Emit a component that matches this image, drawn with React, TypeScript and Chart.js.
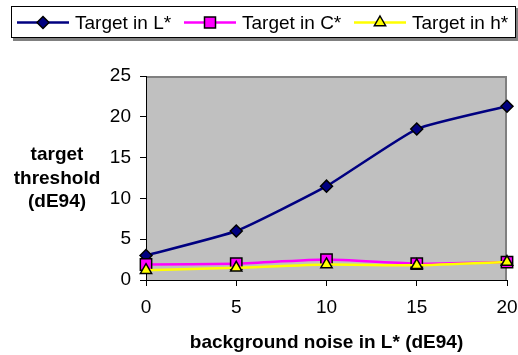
import React, { useEffect, useRef } from 'react';
import { Chart, registerables } from 'chart.js';

Chart.register(...registerables);

const noiseLabels = ['0', '5', '10', '15', '20'];
const targetL = [3.0, 6.0, 11.5, 18.5, 21.3];
const targetC = [1.9, 2.0, 2.5, 2.0, 2.2];
const targetH = [1.2, 1.5, 1.9, 1.8, 2.2];
const yTicks = [0, 5, 10, 15, 20, 25];
const seriesNames = ['Target in L*', 'Target in C*', 'Target in h*'];
const yTitleLines = ['target', 'threshold', '(dE94)'];
const xTitle = 'background noise in L* (dE94)';

const FONT = '"Liberation Sans", Arial, sans-serif';

function drawMarker(ctx: CanvasRenderingContext2D, kind: string, x: number, y: number, fill: string) {
  ctx.save();
  ctx.fillStyle = fill;
  ctx.strokeStyle = '#000';
  ctx.lineWidth = 1.5;
  ctx.beginPath();
  if (kind === 'diamond') {
    const r = 6;
    ctx.moveTo(x, y - r);
    ctx.lineTo(x + r, y);
    ctx.lineTo(x, y + r);
    ctx.lineTo(x - r, y);
    ctx.closePath();
  } else if (kind === 'square') {
    const s = 5.5;
    ctx.rect(x - s, y - s, 2 * s, 2 * s);
  } else {
    const r = 6.5;
    ctx.moveTo(x, y - r);
    ctx.lineTo(x + r * 0.866, y + r * 0.5);
    ctx.lineTo(x - r * 0.866, y + r * 0.5);
    ctx.closePath();
  }
  ctx.fill();
  ctx.stroke();
  ctx.restore();
}

const decorPlugin = {
  id: 'decor',
  beforeDraw(chart: any) {
    const { ctx, chartArea: a } = chart;
    ctx.save();
    ctx.fillStyle = '#ffffff';
    ctx.fillRect(0, 0, chart.width, chart.height);
    ctx.fillStyle = '#C0C0C0';
    ctx.fillRect(a.left, a.top, a.right - a.left, a.bottom - a.top);
    ctx.strokeStyle = '#808080';
    ctx.lineWidth = 2;
    ctx.beginPath();
    ctx.moveTo(a.left, a.top + 1);
    ctx.lineTo(a.right - 1, a.top + 1);
    ctx.lineTo(a.right - 1, a.bottom);
    ctx.stroke();
    ctx.restore();
  },
  afterDraw(chart: any) {
    const { ctx, chartArea: a } = chart;
    ctx.save();
    // legend box
    ctx.fillStyle = '#808080';
    ctx.fillRect(13, 8, 505, 33);
    ctx.fillStyle = '#ffffff';
    ctx.fillRect(11, 6, 505, 32);
    ctx.strokeStyle = '#000';
    ctx.lineWidth = 1;
    ctx.strokeRect(11.5, 6.5, 504, 31);
    const items = [
      { x: 17, color: '#000080', kind: 'diamond', fill: '#000080' },
      { x: 184, color: '#FF00FF', kind: 'square', fill: '#FF00FF' },
      { x: 354, color: '#FFFF00', kind: 'triangle', fill: '#FFFF00' },
    ];
    const ly = 22.5;
    items.forEach((it, i) => {
      ctx.strokeStyle = it.color;
      ctx.lineWidth = 2.5;
      ctx.beginPath();
      ctx.moveTo(it.x, ly);
      ctx.lineTo(it.x + 52, ly);
      ctx.stroke();
      drawMarker(ctx, it.kind, it.x + 26, ly, it.fill);
      ctx.fillStyle = '#000';
      ctx.font = `19px ${FONT}`;
      ctx.textAlign = 'left';
      ctx.textBaseline = 'middle';
      ctx.fillText(seriesNames[i], it.x + 58, ly + 1);
    });
    // y title
    ctx.font = `bold 19px ${FONT}`;
    ctx.textAlign = 'center';
    ctx.textBaseline = 'middle';
    const ys = [155, 178.5, 202];
    yTitleLines.forEach((t, i) => ctx.fillText(t, 57, ys[i]));
    // x title
    ctx.fillText(xTitle, (a.left + a.right) / 2, 343);
    ctx.restore();
  },
};

export default function App() {
  const ref = useRef<HTMLCanvasElement>(null);
  useEffect(() => {
    if (!ref.current) return;
    const chart = new Chart(ref.current, {
      type: 'line',
      data: {
        labels: noiseLabels,
        datasets: [
          {
            label: seriesNames[0],
            data: targetL,
            borderColor: '#000080',
            backgroundColor: '#000080',
            borderWidth: 2.5,
            pointStyle: 'rectRot',
            pointRadius: 6,
            pointBorderColor: '#000',
            pointBackgroundColor: '#000080',
            pointBorderWidth: 1.5,
            tension: 0.15,
            clip: false,
            order: 2,
          },
          {
            label: seriesNames[1],
            data: targetC,
            borderColor: '#FF00FF',
            backgroundColor: '#FF00FF',
            borderWidth: 2.5,
            pointStyle: 'rect',
            pointRadius: 8,
            pointBorderColor: '#000',
            pointBackgroundColor: '#FF00FF',
            pointBorderWidth: 1.5,
            tension: 0.15,
            clip: false,
            order: 1,
          },
          {
            label: seriesNames[2],
            data: targetH,
            borderColor: '#FFFF00',
            backgroundColor: '#FFFF00',
            borderWidth: 2.5,
            pointStyle: 'triangle',
            pointRadius: 6.5,
            pointBorderColor: '#000',
            pointBackgroundColor: '#FFFF00',
            pointBorderWidth: 1.5,
            tension: 0.15,
            clip: false,
            order: 0,
          },
        ],
      },
      options: {
        responsive: false,
        animation: false,
        devicePixelRatio: 1,
        layout: { padding: { top: 76, right: 11, left: 0, bottom: 0 } },
        plugins: { legend: { display: false }, tooltip: { enabled: false }, title: { display: false } },
        scales: {
          x: {
            type: 'category',
            offset: false,
            grid: { drawOnChartArea: false, drawTicks: true, tickLength: 6, color: '#000', lineWidth: 1 },
            border: { display: true, color: '#000', width: 1 },
            ticks: { color: '#000', font: { family: FONT, size: 19 }, padding: 10, maxRotation: 0 },
            afterFit: (s: any) => { s.height = 75; s.paddingLeft = 0; s.paddingRight = 0; },
          },
          y: {
            min: 0,
            max: 25,
            afterBuildTicks: (s: any) => { s.ticks = yTicks.map((v) => ({ value: v })); },
            grid: { drawOnChartArea: false, drawTicks: true, tickLength: 6, color: '#000', lineWidth: 1 },
            border: { display: true, color: '#000', width: 1 },
            ticks: { color: '#000', font: { family: FONT, size: 19 }, padding: 9 },
            afterFit: (s: any) => { s.width = 146; s.paddingTop = 0; s.paddingBottom = 0; },
          },
        },
      },
      plugins: [decorPlugin],
    } as any);
    return () => chart.destroy();
  }, []);
  return (
    <div style={{ position: 'absolute', left: 0, top: 0, width: 518, height: 355 }}>
      <canvas ref={ref} width={518} height={355} style={{ display: 'block' }} />
    </div>
  );
}
